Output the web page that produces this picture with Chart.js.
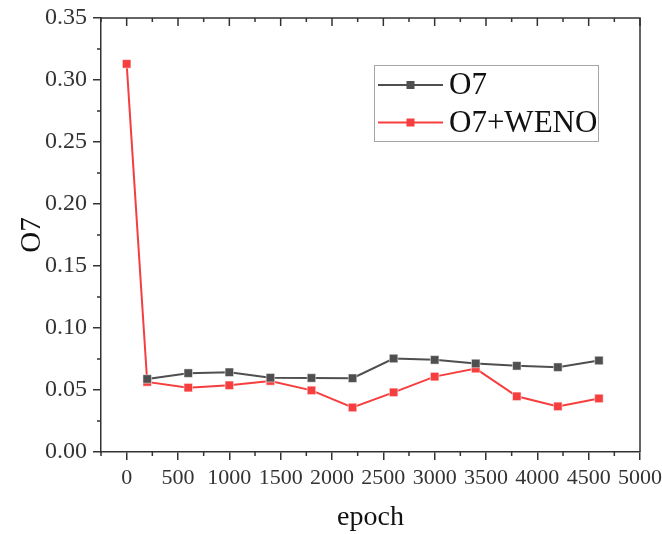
<!DOCTYPE html>
<html>
<head>
<meta charset="utf-8">
<script src="https://cdn.jsdelivr.net/npm/chart.js@4/dist/chart.umd.min.js"></script>
<style>
  html, body { margin: 0; padding: 0; background: #fff; }
  #wrap { width: 662px; height: 534px; }
</style>
</head>
<body>
<div id="wrap"><canvas id="c" width="662" height="534"></canvas></div>
<script>
// ---- data ----
const seriesNames = ['O7', 'O7+WENO'];
const epochsO7 = [200, 600, 1000, 1400, 1800, 2200, 2600, 3000, 3400, 3800, 4200, 4600];
const valuesO7 = [0.0589, 0.0636, 0.0643, 0.0599, 0.0597, 0.0595, 0.0754, 0.0743, 0.0714, 0.0695, 0.0684, 0.0738];
const epochsWENO = [0, 200, 600, 1000, 1400, 1800, 2200, 2600, 3000, 3400, 3800, 4200, 4600];
const valuesWENO = [0.313, 0.0565, 0.0519, 0.0538, 0.0573, 0.0497, 0.0359, 0.0481, 0.0608, 0.0673, 0.0449, 0.0368, 0.0432];
const xTickValues = [0, 500, 1000, 1500, 2000, 2500, 3000, 3500, 4000, 4500, 5000];
const xMinorValues = [-250, 250, 750, 1250, 1750, 2250, 2750, 3250, 3750, 4250, 4750];
const yTickValues = [0, 0.05, 0.10, 0.15, 0.20, 0.25, 0.30, 0.35];
const yMinorValues = [0.025, 0.075, 0.125, 0.175, 0.225, 0.275, 0.325];

const FONT = '"Liberation Serif", "Times New Roman", serif';
const AXIS_COLOR = '#333333';
const colors = ['#4f4f4f', '#f63e3e'];

const toPoints = (xs, ys) => xs.map((x, i) => ({ x: x, y: ys[i] }));

const frameAndTicks = {
  id: 'frameAndTicks',
  afterDraw(chart) {
    const ctx = chart.ctx;
    const a = chart.chartArea;
    const xs = chart.scales.x, ys = chart.scales.y;
    ctx.save();
    ctx.strokeStyle = AXIS_COLOR;
    ctx.lineWidth = 1.5;
    ctx.beginPath();
    ctx.moveTo(a.left, a.top);
    ctx.lineTo(a.right, a.top);
    ctx.lineTo(a.right, a.bottom);
    ctx.stroke();
    ctx.beginPath();
    yMinorValues.forEach(v => {
      const p = ys.getPixelForValue(v);
      ctx.moveTo(a.left - 4, p); ctx.lineTo(a.left, p);
    });
    xMinorValues.forEach(v => {
      const p = xs.getPixelForValue(v);
      ctx.moveTo(p, a.bottom); ctx.lineTo(p, a.bottom + 4);
    });
    xTickValues.forEach(v => {
      const p = xs.getPixelForValue(v);
      ctx.moveTo(p, a.top); ctx.lineTo(p, a.top + 8);
    });
    xMinorValues.forEach(v => {
      const p = xs.getPixelForValue(v);
      ctx.moveTo(p, a.top); ctx.lineTo(p, a.top + 4);
    });
    ctx.stroke();
    ctx.restore();
  }
};

const customLegend = {
  id: 'customLegend',
  afterDraw(chart) {
    const ctx = chart.ctx;
    const bx = 374.5, by = 65.5, bw = 224, bh = 76;
    ctx.save();
    ctx.strokeStyle = '#a6a6a6';
    ctx.lineWidth = 1;
    ctx.strokeRect(bx, by, bw, bh);
    chart.data.datasets.forEach((ds, i) => {
      const cy = 85 + i * 37.5;
      ctx.strokeStyle = ds.borderColor;
      ctx.lineWidth = 2;
      ctx.beginPath();
      ctx.moveTo(378, cy); ctx.lineTo(443, cy);
      ctx.stroke();
      ctx.fillStyle = ds.pointBackgroundColor;
      ctx.fillRect(406.5, cy - 4, 8, 8);
      ctx.fillStyle = '#111111';
      ctx.font = '31px ' + FONT;
      ctx.textBaseline = 'middle';
      ctx.textAlign = 'left';
      ctx.fillText(ds.label, 449, cy + 1);
    });
    ctx.restore();
  }
};

new Chart(document.getElementById('c'), {
  type: 'line',
  data: {
    datasets: [
      {
        label: seriesNames[0],
        data: toPoints(epochsO7, valuesO7),
        borderColor: colors[0],
        backgroundColor: colors[0],
        pointBackgroundColor: colors[0],
        pointBorderColor: 'rgba(255,255,255,0.5)',
        pointBorderWidth: 1,
        pointStyle: 'rect',
        pointRadius: 6,
        borderWidth: 2,
        tension: 0
      },
      {
        label: seriesNames[1],
        data: toPoints(epochsWENO, valuesWENO),
        borderColor: colors[1],
        backgroundColor: colors[1],
        pointBackgroundColor: colors[1],
        pointBorderColor: 'rgba(255,255,255,0.5)',
        pointBorderWidth: 1,
        pointStyle: 'rect',
        pointRadius: 6,
        borderWidth: 2,
        tension: 0
      }
    ]
  },
  options: {
    responsive: false,
    animation: false,
    layout: { padding: { left: 0, right: 22, top: 18, bottom: 0 } },
    plugins: { legend: { display: false }, tooltip: { enabled: false } },
    scales: {
      x: {
        type: 'linear',
        min: -250,
        max: 5000,
        afterBuildTicks: s => { s.ticks = xTickValues.map(v => ({ value: v })); },
        afterFit: s => { s.height = 82; s.paddingLeft = 0; s.paddingRight = 0; },
        grid: { display: true, drawOnChartArea: false, drawTicks: true, tickLength: 8, color: AXIS_COLOR, lineWidth: 1.5 },
        border: { display: true, color: AXIS_COLOR, width: 1.5 },
        ticks: { color: '#333333', font: { family: FONT, size: 22 }, padding: 5, maxRotation: 0, autoSkip: false, callback: v => String(v) },
        title: { display: true, text: 'epoch', color: '#111111', font: { family: FONT, size: 28 }, padding: { top: 8, bottom: 0 } }
      },
      y: {
        type: 'linear',
        min: 0,
        max: 0.35,
        afterBuildTicks: s => { s.ticks = yTickValues.map(v => ({ value: v })); },
        afterFit: s => { s.width = 101; s.paddingTop = 0; s.paddingBottom = 0; },
        grid: { display: true, drawOnChartArea: false, drawTicks: true, tickLength: 8, color: AXIS_COLOR, lineWidth: 1.5 },
        border: { display: true, color: AXIS_COLOR, width: 1.5 },
        ticks: { color: '#333333', font: { family: FONT, size: 24 }, padding: 6, callback: v => Number(v).toFixed(2) },
        title: { display: true, text: 'O7', color: '#111111', font: { family: FONT, size: 29 }, padding: { top: 15, bottom: 0 } }
      }
    }
  },
  plugins: [frameAndTicks, customLegend]
});
</script>
</body>
</html>
